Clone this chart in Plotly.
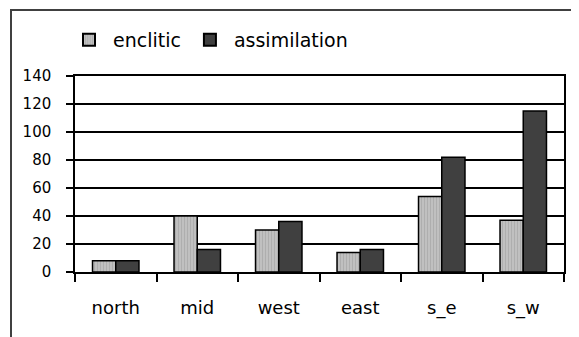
import plotly.graph_objects as go

categories = ["north", "mid", "west", "east", "s_e", "s_w"]
enclitic = [8, 40, 30, 14, 54, 37]
assimilation = [8, 16, 36, 16, 82, 115]
y_ticks = [0, 20, 40, 60, 80, 100, 120, 140]

# page body has an 8px margin, so figure coordinates are offset by 8px
OFF = 8
W, H = 579, 337
L, T = 75 - OFF, 76 - OFF
R, B = W - (564 - OFF), H - (272 - OFF)
pw, ph = W - L - R, H - T - B

fig = go.Figure()
fig.add_trace(go.Bar(
    x=categories, y=enclitic, name="enclitic",
    marker=dict(color="#b8b8b8", line=dict(color="black", width=1.5),
                pattern=dict(shape="|", fgcolor="#9a9a9a", bgcolor="#c0c0c0", size=3, solidity=0.3)),
))
fig.add_trace(go.Bar(
    x=categories, y=assimilation, name="assimilation",
    marker=dict(color="#404040", line=dict(color="black", width=1.5)),
))

def px_x(p):
    return (p - OFF - L) / pw

def px_y(p):
    return (H - B - (p - OFF)) / ph

fig.add_shape(type="rect", xref="paper", yref="paper",
              x0=px_x(11), x1=px_x(600), y0=px_y(360), y1=px_y(10),
              line=dict(color="#404040", width=2), layer="below")

fig.update_layout(
    width=W, height=H,
    margin=dict(l=L, r=R, t=T, b=B, pad=0, autoexpand=False),
    paper_bgcolor="white", plot_bgcolor="white",
    barmode="group", bargap=0.43, bargroupgap=0,
    font=dict(family="DejaVu Sans", color="black", size=15),
    legend=dict(orientation="h", x=px_x(65), y=px_y(40), xanchor="left", yanchor="middle",
                font=dict(size=19, family="DejaVu Sans"), itemsizing="constant", itemwidth=38,
                bgcolor="rgba(0,0,0,0)", traceorder="normal"),
    showlegend=True,
)
fig.update_xaxes(
    showline=True, linecolor="black", linewidth=1.5, mirror=True,
    ticks="outside", ticklen=8, tickwidth=1.5, tickcolor="black",
    tickson="boundaries", showgrid=False,
    tickfont=dict(size=18, family="DejaVu Sans"), ticklabelstandoff=19,
)
fig.update_yaxes(
    range=[0, 140], tickvals=y_ticks,
    showline=True, linecolor="black", linewidth=1.5, mirror=True,
    ticks="outside", ticklen=7, tickwidth=1.5, tickcolor="black",
    showgrid=True, gridcolor="black", gridwidth=1.5, zeroline=False,
    tickfont=dict(size=15, family="DejaVu Sans"), ticklabelstandoff=12,
)

fig.write_html("out.html")
